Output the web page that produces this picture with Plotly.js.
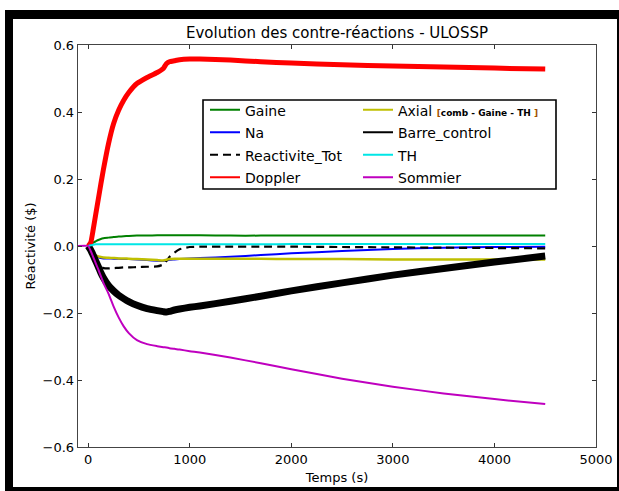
<!DOCTYPE html>
<html>
<head>
<meta charset="utf-8">
<script src="https://cdn.plot.ly/plotly-3.0.1.min.js"></script>
<style>
  html, body { margin: 0; padding: 0; background: #fff; }
  #wrap { position: relative; width: 619px; height: 491px; }
  #plot { position: absolute; left: 0; top: 0; width: 619px; height: 491px; }
  #frame { position: absolute; left: 5px; top: 10px; width: 614px; height: 481px; box-sizing: border-box;
           border-left: 8px solid #000; border-top: 9px solid #000; border-right: 2px solid #000; border-bottom: 4px solid #000;
           pointer-events: none; }
</style>
</head>
<body>
<div id="wrap"><div id="plot"></div><div id="frame"></div></div>
<script>
// Time grid (s)
const temps = [0, 25, 50, 75, 100, 125, 150, 200, 250, 300, 350, 400, 480, 580, 680, 740, 770, 800, 850, 900, 1000, 1100, 1400, 1700, 2000, 2500, 3000, 3500, 4000, 4500];
// Sommier series also has a pre-transient point
const tempsSommier = [-100, 0, 25, 50, 75, 100, 125, 150, 200, 250, 300, 350, 400, 480, 580, 680, 740, 770, 800, 850, 900, 1000, 1100, 1400, 1700, 2000, 2500, 3000, 3500, 4000, 4500];

// Series values ($)
const gaine    = [0, 0.005, 0.010, 0.014, 0.018, 0.021, 0.023, 0.025, 0.027, 0.028, 0.029, 0.030, 0.031, 0.031, 0.032, 0.032, 0.032, 0.032, 0.032, 0.032, 0.032, 0.032, 0.031, 0.031, 0.031, 0.031, 0.031, 0.031, 0.031, 0.031];
const na       = [0, -0.010, -0.020, -0.028, -0.033, -0.036, -0.037, -0.037, -0.038, -0.038, -0.039, -0.039, -0.040, -0.042, -0.044, -0.045, -0.043, -0.041, -0.040, -0.039, -0.037, -0.036, -0.032, -0.027, -0.022, -0.015, -0.009, -0.005, -0.003, -0.002];
const reacTot  = [0, -0.015, -0.030, -0.045, -0.055, -0.062, -0.066, -0.067, -0.066, -0.065, -0.064, -0.064, -0.063, -0.062, -0.061, -0.055, -0.045, -0.033, -0.020, -0.010, -0.003, -0.002, -0.002, -0.002, -0.002, -0.003, -0.004, -0.005, -0.006, -0.007];
const doppler  = [0, 0.010, 0.050, 0.095, 0.140, 0.185, 0.228, 0.305, 0.365, 0.405, 0.435, 0.458, 0.485, 0.503, 0.518, 0.530, 0.544, 0.550, 0.553, 0.556, 0.558, 0.558, 0.555, 0.550, 0.546, 0.541, 0.537, 0.534, 0.531, 0.528];
const axial    = [0, -0.012, -0.022, -0.028, -0.031, -0.033, -0.034, -0.035, -0.036, -0.037, -0.037, -0.038, -0.039, -0.040, -0.042, -0.043, -0.041, -0.039, -0.038, -0.038, -0.038, -0.038, -0.038, -0.038, -0.039, -0.039, -0.040, -0.040, -0.040, -0.040];
const barre    = [0, -0.012, -0.028, -0.045, -0.062, -0.080, -0.095, -0.118, -0.134, -0.147, -0.157, -0.166, -0.177, -0.187, -0.193, -0.196, -0.197, -0.195, -0.191, -0.188, -0.183, -0.179, -0.165, -0.150, -0.134, -0.110, -0.087, -0.067, -0.048, -0.030];
const th       = [0, 0.002, 0.004, 0.005, 0.005, 0.005, 0.005, 0.005, 0.005, 0.005, 0.005, 0.005, 0.005, 0.005, 0.005, 0.005, 0.005, 0.005, 0.005, 0.005, 0.005, 0.005, 0.005, 0.005, 0.006, 0.006, 0.006, 0.006, 0.006, 0.006];
const sommier  = [0, 0, -0.015, -0.033, -0.052, -0.070, -0.090, -0.110, -0.142, -0.180, -0.213, -0.240, -0.260, -0.281, -0.293, -0.299, -0.302, -0.303, -0.305, -0.307, -0.309, -0.314, -0.318, -0.333, -0.350, -0.368, -0.396, -0.420, -0.440, -0.457, -0.472];

const seriesNames = ['Gaine', 'Na', 'Reactivite_Tot', 'Doppler', 'Axial', 'Barre_control', 'TH', 'Sommier'];
const xTicks = [0, 1000, 2000, 3000, 4000, 5000];
const yTicks = [-0.6, -0.4, -0.2, 0.0, 0.2, 0.4, 0.6];

const FONT = 'DejaVu Sans, sans-serif';
const lg = s => '<span style="font-size:14px">' + s + '</span>';
const legendLabel = s => s === 'Axial'
  ? lg('Axial ') + '<span style="font-size:9px"><b><span style="color:#a05000">[</span>comb - Gaine - TH <span style="color:#a05000">]</span></b></span>'
  : lg(s);

const styles = [
  {color: '#008000', width: 2},
  {color: '#0000ff', width: 2},
  {color: '#000000', width: 2.2, dash: '8px,5px'},
  {color: '#ff0000', width: 5},
  {color: '#bfbf00', width: 2.5},
  {color: '#000000', width: 7},
  {color: '#00e6e6', width: 2},
  {color: '#bf00bf', width: 2}
];
const xs = [temps, temps, temps, temps, temps, temps, temps, tempsSommier];
const ys = [gaine, na, reacTot, doppler, axial, barre, th, sommier];
const legendOf = i => (i < 4 ? 'legend' : 'legend2');

const dataTraces = ys.map((y, i) => ({
  type: 'scatter', mode: 'lines', x: xs[i], y: y, name: seriesNames[i],
  line: Object.assign({shape: 'spline', smoothing: 0.5}, styles[i]),
  showlegend: false
}));
// Legend entries (thin samples, as in the reference legend)
const legendTraces = seriesNames.map((n, i) => ({
  type: 'scatter', mode: 'lines', x: [null], y: [null], name: legendLabel(n),
  line: Object.assign({}, styles[i], {width: 2}),
  legend: legendOf(i), showlegend: true, hoverinfo: 'skip'
}));

const axisCommon = {
  showgrid: false, zeroline: false, showline: true, mirror: 'ticks',
  ticks: 'inside', ticklen: 4, tickwidth: 1, tickcolor: '#333',
  linecolor: '#444', linewidth: 1.3,
  tickfont: {family: FONT, size: 13, color: '#000'},
  automargin: false
};

const legendCommon = {
  bgcolor: 'rgba(0,0,0,0)', borderwidth: 0,
  font: {family: FONT, size: 15, color: '#000'},
  xanchor: 'left', yanchor: 'top', orientation: 'v', traceorder: 'normal',
  itemclick: false, itemdoubleclick: false
};

const layout = {
  width: 619, height: 491,
  margin: {l: 78, r: 23, t: 45, b: 44},
  paper_bgcolor: '#fff', plot_bgcolor: '#fff',
  font: {family: FONT, color: '#000'},
  title: {text: 'Evolution des contre-réactions - ULOSSP', font: {family: FONT, size: 15, color: '#000'},
          x: 0.5, xref: 'paper', xanchor: 'center', y: 1 - 33/491, yref: 'container', yanchor: 'middle'},
  xaxis: Object.assign({}, axisCommon, {range: [-100, 5000], tickvals: xTicks, ticktext: xTicks.map(String),
          title: {text: 'Temps (s)', font: {family: FONT, size: 13, color: '#000'}, standoff: 7}}),
  yaxis: Object.assign({}, axisCommon, {range: [-0.6, 0.6], tickvals: yTicks, tickformat: '.1f',
          title: {text: 'Réactivité ($)', font: {family: FONT, size: 13, color: '#000'}, standoff: 4}}),
  showlegend: true,
  legend: Object.assign({}, legendCommon, {x: (205 - 78) / 518, y: (447 - 93.5) / 402}),
  legend2: Object.assign({}, legendCommon, {x: (358 - 78) / 518, y: (447 - 93.5) / 402}),
  shapes: [{type: 'rect', xref: 'paper', yref: 'paper', x0: (203 - 78) / 518, x1: (556 - 78) / 518,
            y0: (447 - 189) / 402, y1: (447 - 100) / 402, line: {color: '#000', width: 1.6},
            fillcolor: '#fff', layer: 'above'}]
};

Plotly.newPlot('plot', dataTraces.concat(legendTraces), layout, {displayModeBar: false, staticPlot: true});
</script>
</body>
</html>
